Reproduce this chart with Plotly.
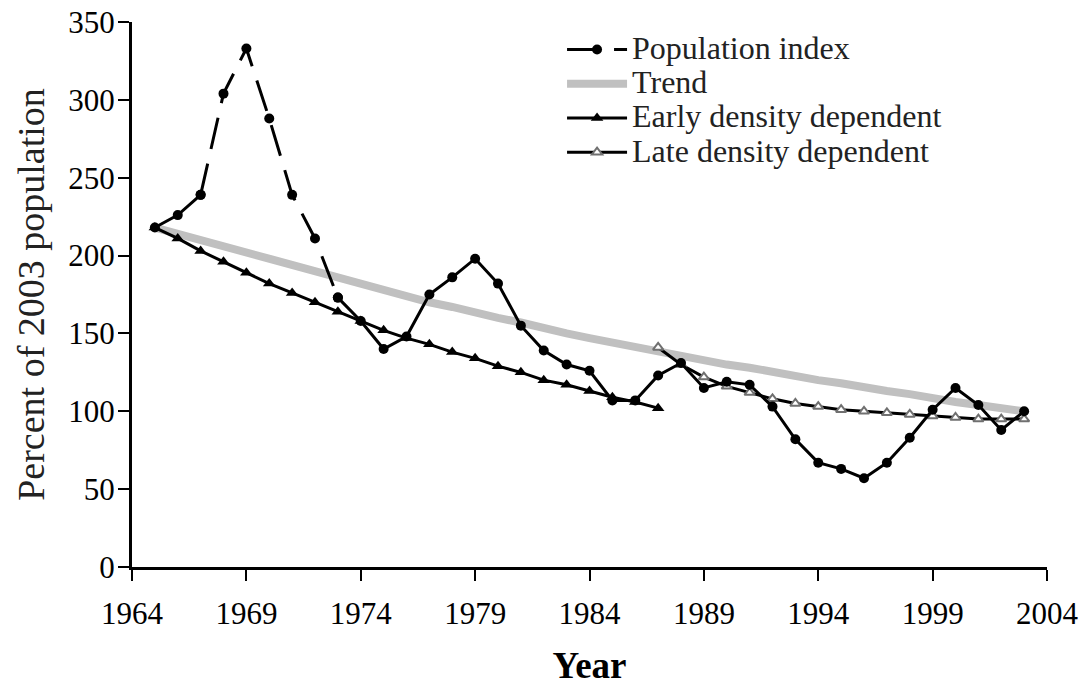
"""Population index with trend and density-dependent fits."""

import plotly.graph_objects as go

years = list(range(1965, 2004))
population_index = [
    218, 226, 239, 304, 333, 288, 239, 211, 173, 158,
    140, 148, 175, 186, 198, 182, 155, 139, 130, 126,
    107, 107, 123, 131, 115, 119, 117, 103, 82, 67,
    63, 57, 67, 83, 101, 115, 104, 88, 100,
]
trend = [
    218, 214, 209, 205, 201, 197, 193, 189, 185, 181,
    177, 174, 170, 167, 163, 160, 157, 153, 150, 147,
    144, 141, 139, 136, 133, 130, 128, 125, 123, 120,
    118, 115, 113, 111, 108, 106, 104, 102, 100,
]
early_years = list(range(1965, 1988))
early_density = [
    218, 211, 203, 196, 189, 182, 176, 170, 164, 158,
    152, 147, 143, 138, 134, 129, 125, 120, 117, 113,
    109, 106, 102,
]
late_years = list(range(1987, 2004))
late_density = [
    141, 130, 122, 116, 112, 108, 105, 103, 101, 100,
    99, 98, 97, 96, 95, 95, 95,
]
x_ticks = list(range(1964, 2005, 5))
y_ticks = list(range(0, 351, 50))

FONT = "Liberation Serif"


def legend_label(text):
    # larger glyphs than the legend font so rows stay tightly packed
    return f'<span style="font-size:32px">{text}</span>'


fig = go.Figure()

fig.add_trace(go.Scatter(
    x=years, y=trend, name=legend_label("Trend"), mode="lines",
    line=dict(color="#c0c0c0", width=8), legendrank=2,
))
fig.add_trace(go.Scatter(
    x=early_years, y=early_density, name=legend_label("Early density dependent"),
    mode="lines+markers", line=dict(color="black", width=3),
    marker=dict(symbol="triangle-up", size=11, color="black"), legendrank=3,
))
fig.add_trace(go.Scatter(
    x=late_years, y=late_density, name=legend_label("Late density dependent"),
    mode="lines+markers", line=dict(color="black", width=3),
    marker=dict(symbol="triangle-up", size=9, color="white",
                line=dict(color="#707070", width=2)), legendrank=4,
))

# population index: solid at the ends, dashed through the early peak
pop_x, pop_y = years, population_index
fig.add_trace(go.Scatter(
    x=pop_x[:3], y=pop_y[:3], mode="lines+markers", showlegend=False,
    line=dict(color="black", width=3), marker=dict(size=10, color="black"),
))
fig.add_trace(go.Scatter(
    x=pop_x[2:9], y=pop_y[2:9], name=legend_label("Population index"),
    mode="lines+markers",
    line=dict(color="black", width=3, dash="32px,15px"),
    marker=dict(size=10, color="black"), legendrank=1,
))
fig.add_trace(go.Scatter(
    x=pop_x[8:], y=pop_y[8:], mode="lines+markers", showlegend=False,
    line=dict(color="black", width=3), marker=dict(size=10, color="black"),
))

axis_common = dict(
    showgrid=False, zeroline=False, showline=True, linecolor="black",
    linewidth=3, ticks="outside", ticklen=11, tickwidth=2, tickcolor="black",
    tickfont=dict(family=FONT, size=31, color="black"), automargin=False,
    ticklabeloverflow="allow",
)

fig.update_layout(
    width=1082, height=686,
    margin=dict(l=132, r=35, t=22, b=119),
    paper_bgcolor="white", plot_bgcolor="white",
    font=dict(family=FONT, color="black"),
    xaxis=dict(
        range=[1964, 2004], tickvals=x_ticks, **axis_common,
        ticklabelstandoff=6,
        title=dict(text="<b>Year</b>", font=dict(family=FONT, size=37),
                   standoff=28),
    ),
    yaxis=dict(
        range=[0, 350], tickvals=y_ticks, **axis_common,
        ticklabelstandoff=-3,
        title=dict(text="Percent of 2003 population",
                   font=dict(family=FONT, size=38, color="#222"), standoff=12),
    ),
    legend=dict(
        x=0.47, y=0.99, xanchor="left", yanchor="top",
        bgcolor="rgba(0,0,0,0)", font=dict(family=FONT, size=24, color="#222"),
        itemwidth=60,
    ),
)

# drop the default page margin so the figure fills the window exactly
fig.write_html(
    "out.html",
    config={"displayModeBar": False},
    post_script="document.body.style.margin = '0';",
)
